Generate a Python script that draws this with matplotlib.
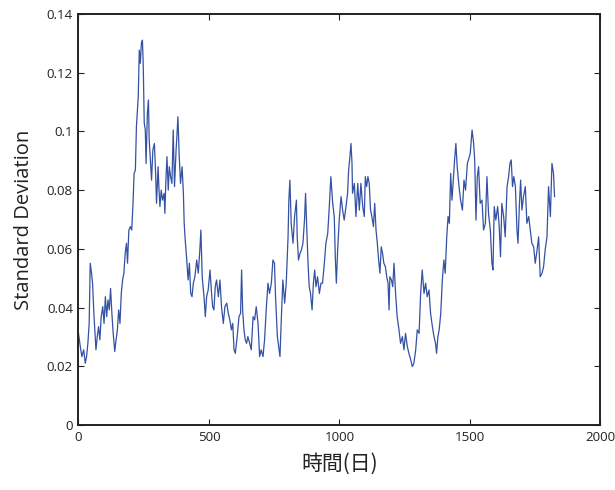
import matplotlib
matplotlib.use("Agg")
import matplotlib.pyplot as plt
from matplotlib.ticker import FuncFormatter

# values (day, standard deviation)
days = [0, 7, 13, 20, 26, 31, 36, 41, 45, 50, 54, 59, 67, 72, 77, 82, 87, 93, 98, 103,
        108, 113, 118, 123, 128, 133, 139, 144, 149, 154, 159, 164, 169, 174, 179, 184, 188, 193, 199, 204,
        209, 213, 218, 222, 225, 229, 233, 237, 241, 245, 248, 252, 256, 259, 264, 268, 271,
        280, 285, 291, 296, 299, 305, 308, 312, 317, 322, 328, 331, 335, 339, 344, 348, 353, 358, 363,
        368, 374, 377, 381, 386, 391, 397, 402, 405, 409, 414, 420, 425, 430, 435, 440, 446, 453, 459,
        465, 469, 474, 481, 486, 491, 497, 504, 509, 514, 519, 524, 529, 536, 542, 548, 555, 561, 568,
        574, 580, 586, 591, 596,
        601, 608, 615, 621, 625, 629, 634, 639, 644, 649, 656, 662, 669, 675, 681, 688, 694, 700, 707,
        713, 720, 726, 732, 739, 745, 751, 755, 762, 767, 772, 777, 783, 790, 796, 803, 806, 810, 815,
        822, 828, 835, 838, 843, 849, 854, 860, 866, 870, 875, 879, 884, 889, 895,
        900, 905, 910, 916, 923, 929, 935, 942, 948, 955, 961, 967, 974, 980, 984, 988, 993, 999, 1006,
        1012, 1018, 1025, 1031, 1035, 1040, 1044, 1048, 1050, 1057, 1063, 1070, 1076, 1082, 1089, 1095,
        1099, 1104, 1109, 1114, 1119, 1124, 1130, 1135, 1140, 1145, 1150, 1155, 1160, 1165, 1170, 1176,
        1181, 1186, 1190, 1193,
        1199, 1204, 1209, 1215, 1221, 1228, 1234, 1241, 1247, 1253, 1260, 1266, 1273, 1279, 1285, 1292,
        1298, 1305, 1311, 1317, 1324, 1330, 1336, 1343, 1349, 1356, 1362, 1368, 1372, 1377, 1382, 1388,
        1394, 1400, 1405, 1411, 1416, 1421, 1426, 1431, 1436, 1441, 1446, 1451, 1458, 1464, 1471, 1477,
        1483, 1490,
        1501, 1508, 1514, 1518, 1523, 1528, 1533, 1539, 1546, 1552, 1559, 1565, 1571, 1578, 1584, 1588,
        1593, 1599, 1606, 1612, 1617, 1622, 1629, 1635, 1642, 1648, 1653, 1658, 1663, 1668, 1674, 1680,
        1684, 1689, 1694, 1699, 1705, 1712, 1718, 1725, 1731, 1737, 1744, 1750, 1757, 1763, 1769, 1776,
        1782, 1788, 1795, 1801, 1808, 1814, 1820, 1824]

std_dev = [0.0312, 0.0267, 0.0233, 0.0256, 0.0210, 0.0233, 0.0278, 0.0346, 0.0551, 0.0517, 0.0483, 0.0380,
           0.0256, 0.0301, 0.0335, 0.0290, 0.0369, 0.0403, 0.0346, 0.0437,
           0.0369, 0.0426, 0.0392, 0.0465, 0.0380, 0.0312, 0.0250, 0.0290, 0.0324, 0.0392, 0.0346, 0.0448,
           0.0494, 0.0517, 0.0585, 0.0619, 0.0551, 0.0664, 0.0676, 0.0664,
           0.0755, 0.0857, 0.0868, 0.1016, 0.1062, 0.1118, 0.1277, 0.1232, 0.1300, 0.1311, 0.1232, 0.1028,
           0.1005, 0.0891, 0.1062, 0.1107, 0.0971,
           0.0834, 0.0937, 0.0959, 0.0846, 0.0755, 0.0880, 0.0812, 0.0744, 0.0800, 0.0766, 0.0789, 0.0721,
           0.0834, 0.0914, 0.0800, 0.0880, 0.0846, 0.0823, 0.1005,
           0.0812, 0.0937, 0.0982, 0.1050, 0.0914, 0.0823, 0.0880, 0.0789, 0.0687, 0.0630, 0.0573, 0.0494,
           0.0551, 0.0448, 0.0437, 0.0483, 0.0505, 0.0562, 0.0517,
           0.0596, 0.0664, 0.0505, 0.0437, 0.0369, 0.0437, 0.0460, 0.0528, 0.0460, 0.0403, 0.0392, 0.0471,
           0.0494, 0.0437, 0.0494, 0.0403, 0.0346, 0.0403, 0.0415,
           0.0380, 0.0358, 0.0324, 0.0346, 0.0256,
           0.0244, 0.0301, 0.0369, 0.0380, 0.0528, 0.0392, 0.0324, 0.0290, 0.0278, 0.0301, 0.0278, 0.0256,
           0.0369, 0.0358, 0.0403, 0.0346, 0.0233, 0.0256, 0.0233,
           0.0290, 0.0403, 0.0483, 0.0448, 0.0483, 0.0562, 0.0551, 0.0437, 0.0301, 0.0267, 0.0233, 0.0358,
           0.0494, 0.0415, 0.0483, 0.0641, 0.0766, 0.0834, 0.0687,
           0.0619, 0.0710, 0.0766, 0.0641, 0.0562, 0.0585, 0.0596, 0.0619, 0.0698, 0.0789, 0.0664, 0.0562,
           0.0471, 0.0448, 0.0392,
           0.0483, 0.0528, 0.0471, 0.0505, 0.0448, 0.0483, 0.0483, 0.0551, 0.0619, 0.0653, 0.0744, 0.0846,
           0.0755, 0.0710, 0.0573, 0.0483, 0.0596, 0.0698, 0.0778,
           0.0732, 0.0698, 0.0744, 0.0789, 0.0868, 0.0914, 0.0959, 0.0891, 0.0789, 0.0823, 0.0710, 0.0823,
           0.0732, 0.0823, 0.0744, 0.0710,
           0.0846, 0.0812, 0.0846, 0.0823, 0.0732, 0.0710, 0.0676, 0.0755, 0.0664, 0.0619, 0.0562, 0.0517,
           0.0607, 0.0585, 0.0551, 0.0539,
           0.0505, 0.0483, 0.0392, 0.0505,
           0.0494, 0.0471, 0.0551, 0.0448, 0.0369, 0.0324, 0.0278, 0.0301, 0.0256, 0.0312, 0.0267, 0.0244,
           0.0222, 0.0199, 0.0210, 0.0256,
           0.0324, 0.0312, 0.0448, 0.0528, 0.0448, 0.0483, 0.0437, 0.0460, 0.0380, 0.0335, 0.0301, 0.0278,
           0.0244, 0.0301, 0.0324, 0.0380,
           0.0494, 0.0562, 0.0517, 0.0641, 0.0710, 0.0687, 0.0857, 0.0766, 0.0834, 0.0903, 0.0959, 0.0880,
           0.0812, 0.0766, 0.0732, 0.0834,
           0.0800, 0.0891,
           0.0925, 0.1005, 0.0959, 0.0903, 0.0698, 0.0846, 0.0880, 0.0755, 0.0766, 0.0664, 0.0687, 0.0846,
           0.0721, 0.0664, 0.0551, 0.0528,
           0.0744, 0.0698, 0.0744, 0.0676, 0.0573, 0.0755, 0.0710, 0.0641, 0.0812, 0.0846, 0.0891, 0.0903,
           0.0812, 0.0846, 0.0812, 0.0664,
           0.0619, 0.0744, 0.0834, 0.0732, 0.0778, 0.0812, 0.0687, 0.0710, 0.0664, 0.0619, 0.0607, 0.0551,
           0.0596, 0.0641, 0.0505, 0.0517,
           0.0539, 0.0596, 0.0641, 0.0812, 0.0710, 0.0891, 0.0857, 0.0778]

x_ticks = [0, 500, 1000, 1500, 2000]
y_ticks = [0, 0.02, 0.04, 0.06, 0.08, 0.1, 0.12, 0.14]

fig = plt.figure(figsize=(6.15, 4.90), dpi=100, facecolor='white')
ax = fig.add_axes([0.1276, 0.1327, 0.8488, 0.8387])

ax.plot(days, std_dev, color='#3451a3', linewidth=0.9)

ax.set_xlim(0, 2000)
ax.set_ylim(0, 0.14)
ax.set_xticks(x_ticks)
ax.set_yticks(y_ticks)
ax.yaxis.set_major_formatter(FuncFormatter(lambda v, p: '%g' % round(v, 4)))

for s in ax.spines.values():
    s.set_color('#222222')
    s.set_linewidth(1.4)

ax.tick_params(direction='in', top=True, right=True, length=4, width=0.8,
               labelsize=9.6, colors='#222222', labelcolor='#222222', pad=4)
for lbl in ax.get_xticklabels() + ax.get_yticklabels():
    lbl.set_family(['Open Sans', 'DejaVu Sans'])

ax.set_ylabel('Standard Deviation', fontsize=14.5, family=['Open Sans', 'DejaVu Sans'],
              color='#222222', labelpad=9)
ax.set_xlabel('時間(日)', fontsize=15, family=['Noto Sans CJK TC', 'DejaVu Sans'],
              color='#222222', labelpad=7)

plt.savefig('out.png', dpi=100, facecolor='white')
plt.close()
